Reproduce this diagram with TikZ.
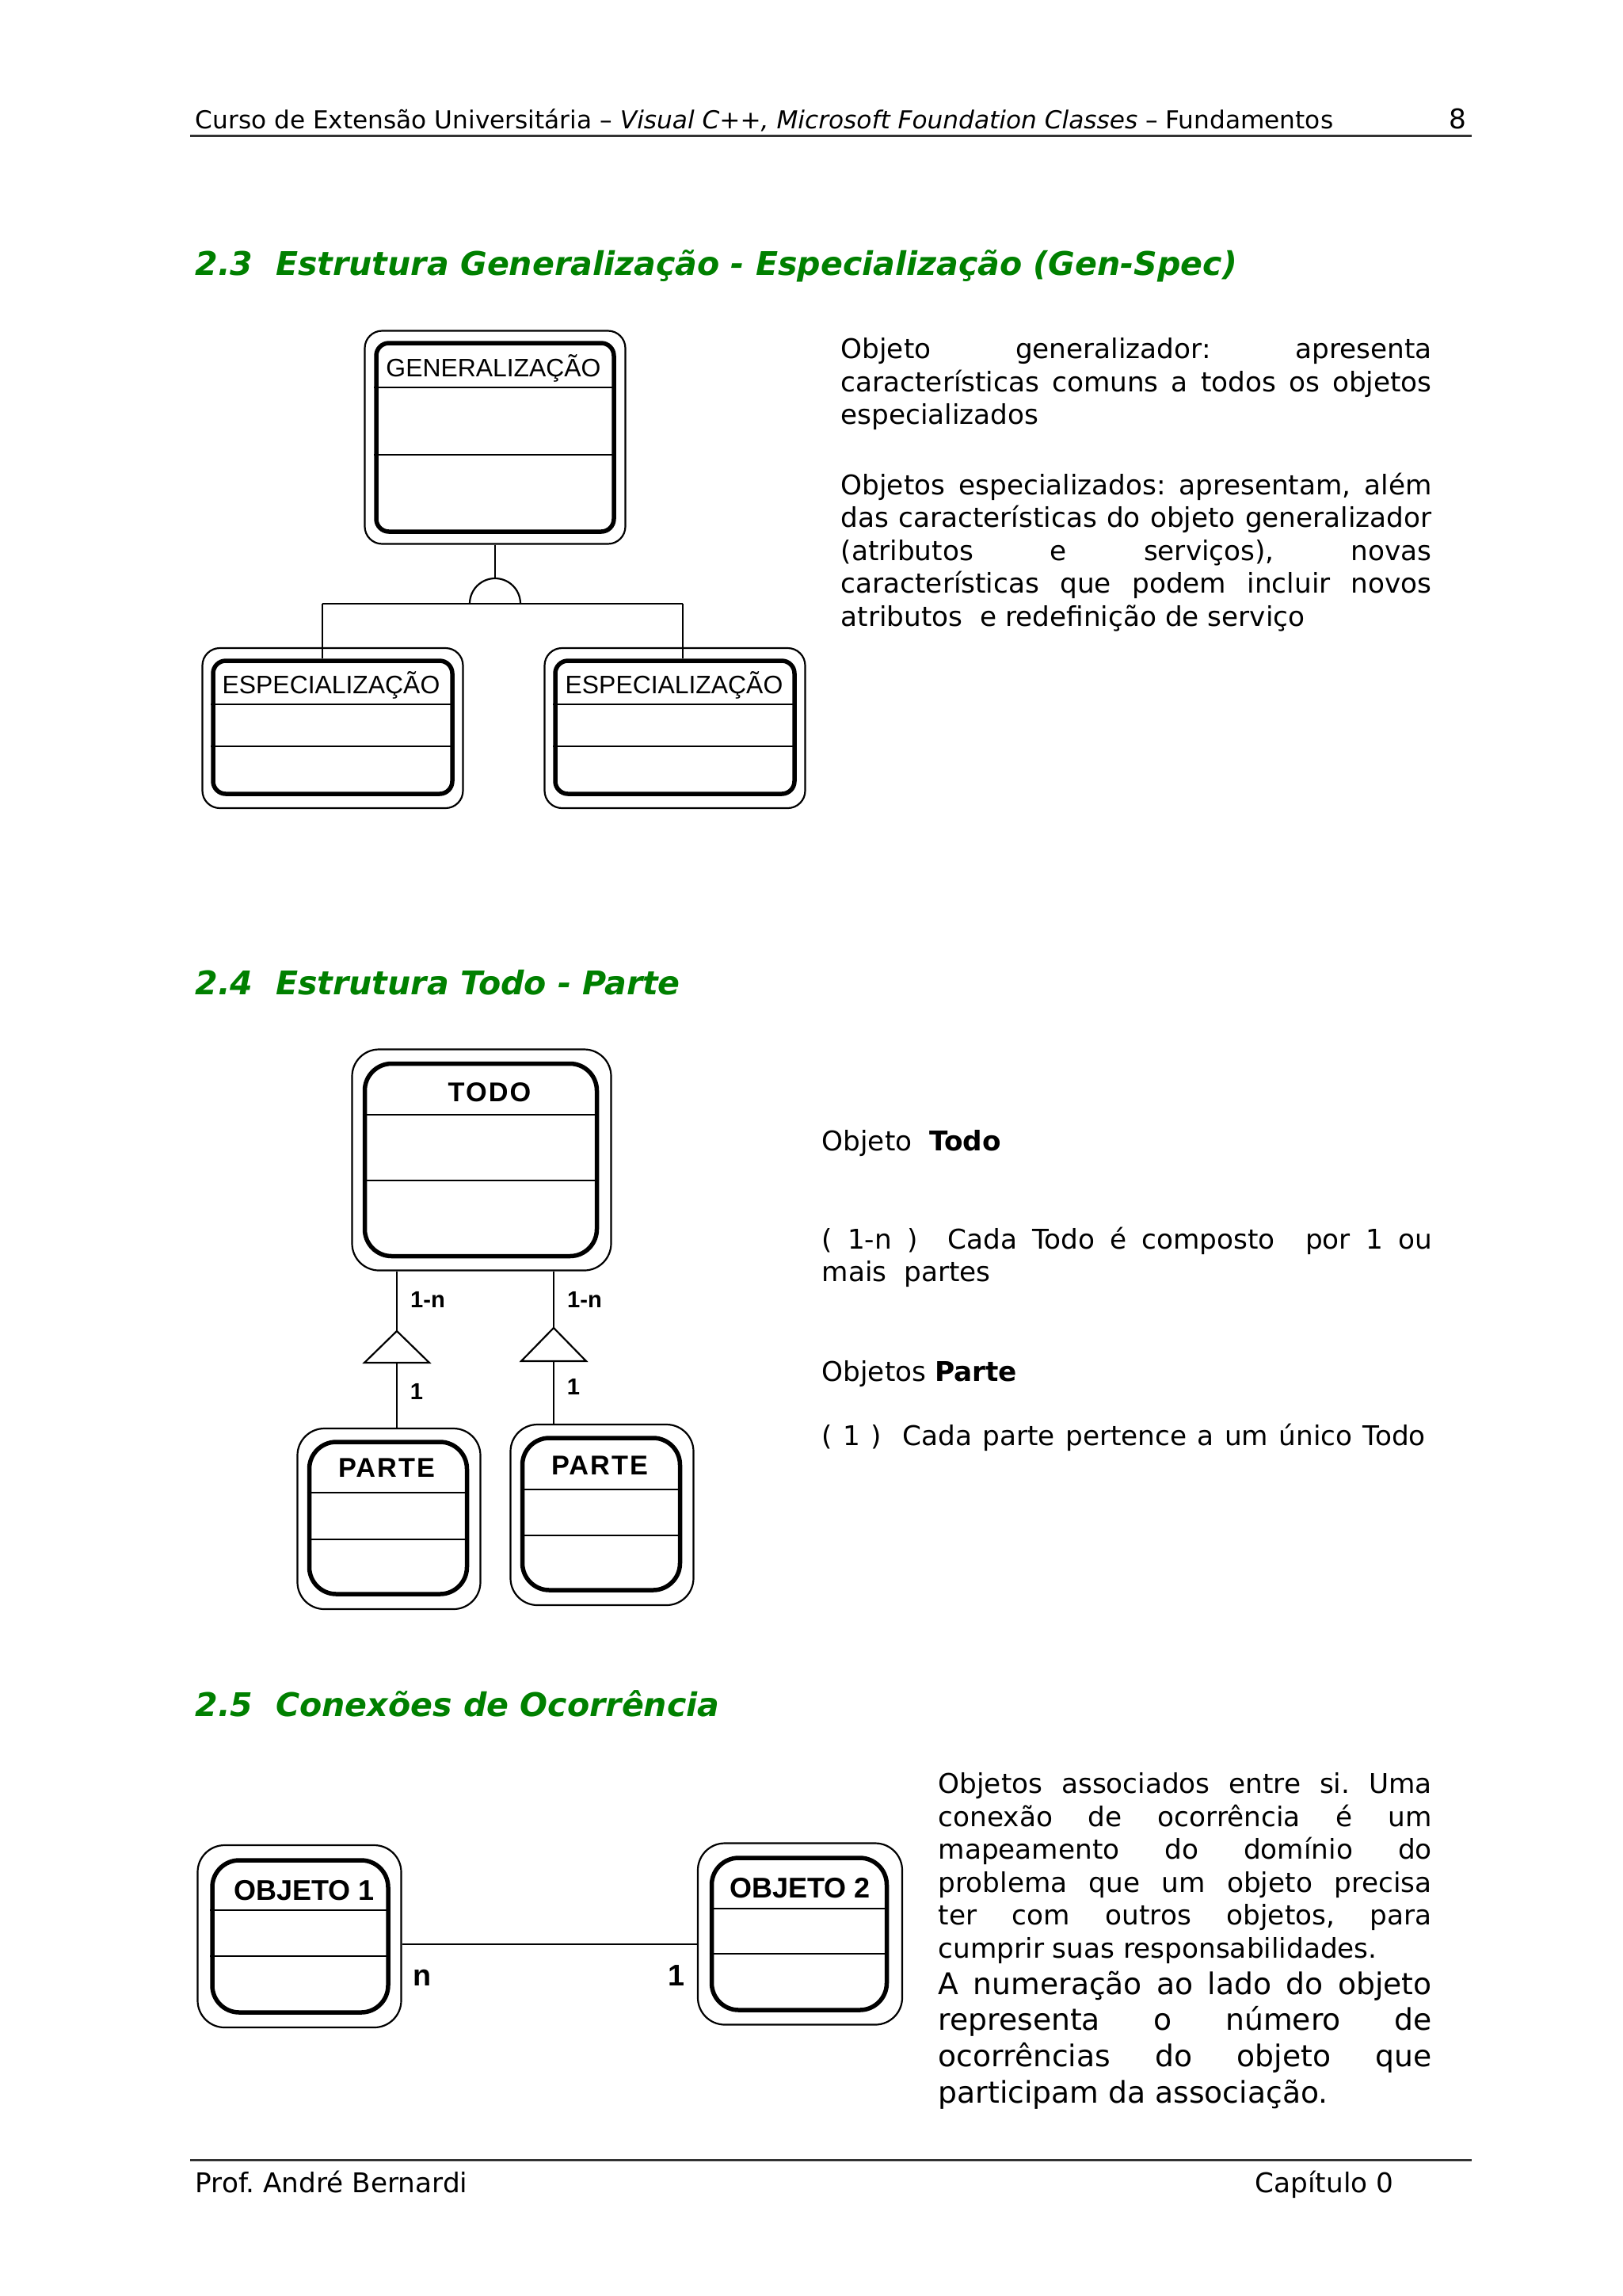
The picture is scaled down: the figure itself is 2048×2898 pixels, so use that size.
\documentclass[tikz,border=0pt]{standalone}
\usepackage{fontspec}
\setmainfont{DejaVu Sans}
\newfontfamily\diagfont{Liberation Sans}
\newfontfamily\diagwide[LetterSpace=6]{Liberation Sans}
\setlength{\parindent}{0pt}
\frenchspacing
\hyphenpenalty=10000
\exhyphenpenalty=10000
\newdimen\pxu
\pxu=0.10254mm
\definecolor{secGreen}{HTML}{008000}
\tikzset{
  oo frame/.style={draw, line width=2.2\pxu, rounded corners=22\pxu, inner sep=0pt},
  oo class/.style={draw, line width=5.5\pxu, rounded corners=16\pxu, inner sep=0pt},
  oo soft/.style={rounded corners=34\pxu},
  oo sep/.style={line width=2\pxu},
  oo link/.style={draw, line width=2.2\pxu},
  oo title/.style={font=\diagfont\fontsize{9.3}{11}\selectfont, inner sep=0pt},
  oo title bold/.style={font=\diagwide\bfseries\fontsize{10}{12}\selectfont, inner sep=0pt},
  oo obj title/.style={font=\diagfont\bfseries\fontsize{10.5}{12}\selectfont, inner sep=0pt},
  oo card/.style={font=\diagfont\bfseries\fontsize{8.5}{10}\selectfont, inner sep=0pt},
  oo card big/.style={font=\diagfont\bfseries\fontsize{11}{13}\selectfont, inner sep=0pt},
  sec head/.style={anchor=base west, inner sep=0pt, text=secGreen,
    font=\bfseries\itshape\fontsize{12}{14.4}\selectfont},
  body/.style={anchor=north west, inner sep=0pt, align=justify,
    font=\fontsize{10}{12.1}\selectfont},
  body line/.style={anchor=base west, inner sep=0pt, font=\fontsize{10}{12.1}\selectfont},
  page text/.style={anchor=base west, inner sep=0pt, font=\fontsize{10}{12}\selectfont},
  page rule/.style={line width=3\pxu, draw=black!80}
}

\begin{document}
\begin{tikzpicture}[x=\pxu, y=-\pxu]
  \useasboundingbox[fill=white] (0,0) rectangle (2048,2898);

  % cabecalho
  \node[page text, font=\fontsize{9.1}{11}\selectfont] (hdr) at (246,162) {Curso de Extensão Universitária – \textit{Visual C++, Microsoft Foundation Classes} – Fundamentos};
  \node[page text, anchor=base east] (pgno) at (1852,162) {8};
  \draw[page rule] (240,171) -- (1858,171);

  % 2.3 Gen-Spec
  \node[sec head] (h23) at (246,347) {2.3\ \ Estrutura Generalização - Especialização (Gen-Spec)};

  \node[oo class, minimum width=300\pxu, minimum height=238\pxu] (gen) at (625,552) {};
  \node[oo frame, minimum width=329\pxu, minimum height=269\pxu] (gen frame) at (625,552) {};
  \node[oo title] (gen title) at (623,465) {GENERALIZAÇÃO};
  \draw[oo sep] (gen.west |- 0,489) -- (gen.east |- 0,489);
  \draw[oo sep] (gen.west |- 0,574) -- (gen.east |- 0,574);

  \node[oo class, minimum width=302\pxu, minimum height=168\pxu] (spl) at (420,918) {};
  \node[oo frame, minimum width=329\pxu, minimum height=202\pxu] (spl frame) at (420,919) {};
  \node[oo title] (spl title) at (418,865) {ESPECIALIZAÇÃO};
  \draw[oo sep] (spl.west |- 0,889) -- (spl.east |- 0,889);
  \draw[oo sep] (spl.west |- 0,942) -- (spl.east |- 0,942);

  \node[oo class, minimum width=302\pxu, minimum height=168\pxu] (spr) at (852,918) {};
  \node[oo frame, minimum width=329\pxu, minimum height=202\pxu] (spr frame) at (852,919) {};
  \node[oo title] (spr title) at (851,865) {ESPECIALIZAÇÃO};
  \draw[oo sep] (spr.west |- 0,889) -- (spr.east |- 0,889);
  \draw[oo sep] (spr.west |- 0,942) -- (spr.east |- 0,942);

  \coordinate (gs) at (625,762);
  \coordinate (bar l) at (407,762);
  \coordinate (bar r) at (862,762);
  \draw[oo link] (gen frame.south) -- ([yshift=32\pxu]gs);
  \draw[oo link] ([xshift=-32\pxu]gs) arc[start angle=180, end angle=0, radius=32\pxu];
  \draw[oo link] (bar l) -- (bar r);
  \draw[oo link] (bar l) -- (bar l |- spl.north);
  \draw[oo link] (bar r) -- (bar r |- spr.north);

  \node[body, text width=746\pxu] (txt gen) at (1061,426)
    {Objeto generalizador: apresenta\linebreak
     características comuns a todos os objetos\linebreak
     especializados\par};
  \node[body, text width=746\pxu] (txt spec) at (1061,596)
    {Objetos especializados: apresentam, além\linebreak
     das características do objeto generalizador\linebreak
     (atributos e serviços), novas\linebreak
     características que podem incluir novos\linebreak
     atributos\ \ e redefinição de serviço\par};

  % 2.4 Todo - Parte
  \node[sec head] (h24) at (246,1255) {2.4\ \ Estrutura Todo - Parte};

  \node[oo class, oo soft, minimum width=293\pxu, minimum height=243\pxu] (todo) at (607,1464) {};
  \node[oo frame, oo soft, minimum width=327\pxu, minimum height=279\pxu] (todo frame) at (608,1464) {};
  \node[oo title bold] (todo title) at (618,1379) {TODO};
  \draw[oo sep] (todo.west |- 0,1407) -- (todo.east |- 0,1407);
  \draw[oo sep] (todo.west |- 0,1490) -- (todo.east |- 0,1490);

  \node[oo class, oo soft, minimum width=199\pxu, minimum height=192\pxu] (pl) at (490,1916) {};
  \node[oo frame, oo soft, minimum width=231\pxu, minimum height=228\pxu] (pl frame) at (491,1917) {};
  \node[oo title bold] (pl title) at (488,1853) {PARTE};
  \draw[oo sep] (pl.west |- 0,1884) -- (pl.east |- 0,1884);
  \draw[oo sep] (pl.west |- 0,1943) -- (pl.east |- 0,1943);

  \node[oo class, oo soft, minimum width=199\pxu, minimum height=192\pxu] (pr) at (759,1911) {};
  \node[oo frame, oo soft, minimum width=231\pxu, minimum height=228\pxu] (pr frame) at (760,1912) {};
  \node[oo title bold] (pr title) at (757,1850) {PARTE};
  \draw[oo sep] (pr.west |- 0,1880) -- (pr.east |- 0,1880);
  \draw[oo sep] (pr.west |- 0,1938) -- (pr.east |- 0,1938);

  \coordinate (tl) at (501,1680);
  \coordinate (tr) at (699,1676);
  \draw[oo link] (todo frame.south -| tl) -- (tl);
  \draw[oo link, fill=white] (tl) -- ++(-41,40) -- ++(82,0) -- cycle;
  \draw[oo link] ([yshift=-40\pxu]tl) -- (tl |- pl frame.north);
  \draw[oo link] (todo frame.south -| tr) -- (tr);
  \draw[oo link, fill=white] (tr) -- ++(-41,42) -- ++(82,0) -- cycle;
  \draw[oo link] ([yshift=-42\pxu]tr) -- (tr |- pr frame.north);
  \node[oo card] (tl many) at (540,1640) {1-n};
  \node[oo card] (tl one) at (526,1756) {1};
  \node[oo card] (tr many) at (738,1640) {1-n};
  \node[oo card] (tr one) at (724,1750) {1};

  \node[body line] (txt todo) at (1037,1452) {Objeto\ \ \textbf{Todo}};
  \node[body, text width=770\pxu] (txt many) at (1037,1548)
    {(\ 1-n\ )\ \ Cada Todo é composto\ \ por 1 ou\linebreak
     mais\ \ partes\par};
  \node[body line] (txt parte) at (1037,1743) {Objetos \textbf{Parte}};
  \node[body, text width=762\pxu] (txt one) at (1037,1796)
    {\parfillskip=0pt (\ 1\ )\ \ Cada parte pertence a um único Todo\par};

  % 2.5 Conexoes de Ocorrencia
  \node[sec head] (h25) at (246,2166) {2.5\ \ Conexões de Ocorrência};

  \node[oo class, oo soft, minimum width=222\pxu, minimum height=192\pxu] (obj1) at (379,2444) {};
  \node[oo frame, oo soft, minimum width=257\pxu, minimum height=230\pxu] (obj1 frame) at (378,2444) {};
  \node[oo obj title] (obj1 title) at (384,2386) {OBJETO 1};
  \draw[oo sep] (obj1.west |- 0,2411) -- (obj1.east |- 0,2411);
  \draw[oo sep] (obj1.west |- 0,2469) -- (obj1.east |- 0,2469);

  \node[oo class, oo soft, minimum width=221\pxu, minimum height=192\pxu] (obj2) at (1009,2441) {};
  \node[oo frame, oo soft, minimum width=258\pxu, minimum height=229\pxu] (obj2 frame) at (1010,2441) {};
  \node[oo obj title] (obj2 title) at (1010,2383) {OBJETO 2};
  \draw[oo sep] (obj2.west |- 0,2409) -- (obj2.east |- 0,2409);
  \draw[oo sep] (obj2.west |- 0,2466) -- (obj2.east |- 0,2466);

  \coordinate (occ) at (700,2454);
  \draw[oo link] (obj1 frame.east |- occ) -- (obj2 frame.west |- occ);
  \node[oo card big] (occ n) at (533,2496) {n};
  \node[oo card big] (occ one) at (854,2493) {1};

  \node[body, text width=623\pxu] (txt occ) at (1184,2237)
    {Objetos associados entre si. Uma\linebreak
     conexão de ocorrência é um\linebreak
     mapeamento do domínio do\linebreak
     problema que um objeto precisa\linebreak
     ter com outros objetos, para\linebreak
     cumprir suas responsabilidades.\par
     {\fontsize{11}{13.4}\selectfont
     A numeração ao lado do objeto\linebreak
     representa o número de\linebreak
     ocorrências do objeto que\linebreak
     participam da associação.\par}};

  % rodape
  \draw[page rule] (240,2726) -- (1858,2726);
  \node[page text] (ftl) at (246,2767) {Prof. André Bernardi};
  \node[page text] (ftr) at (1584,2767) {Capítulo 0};
\end{tikzpicture}
\end{document}
